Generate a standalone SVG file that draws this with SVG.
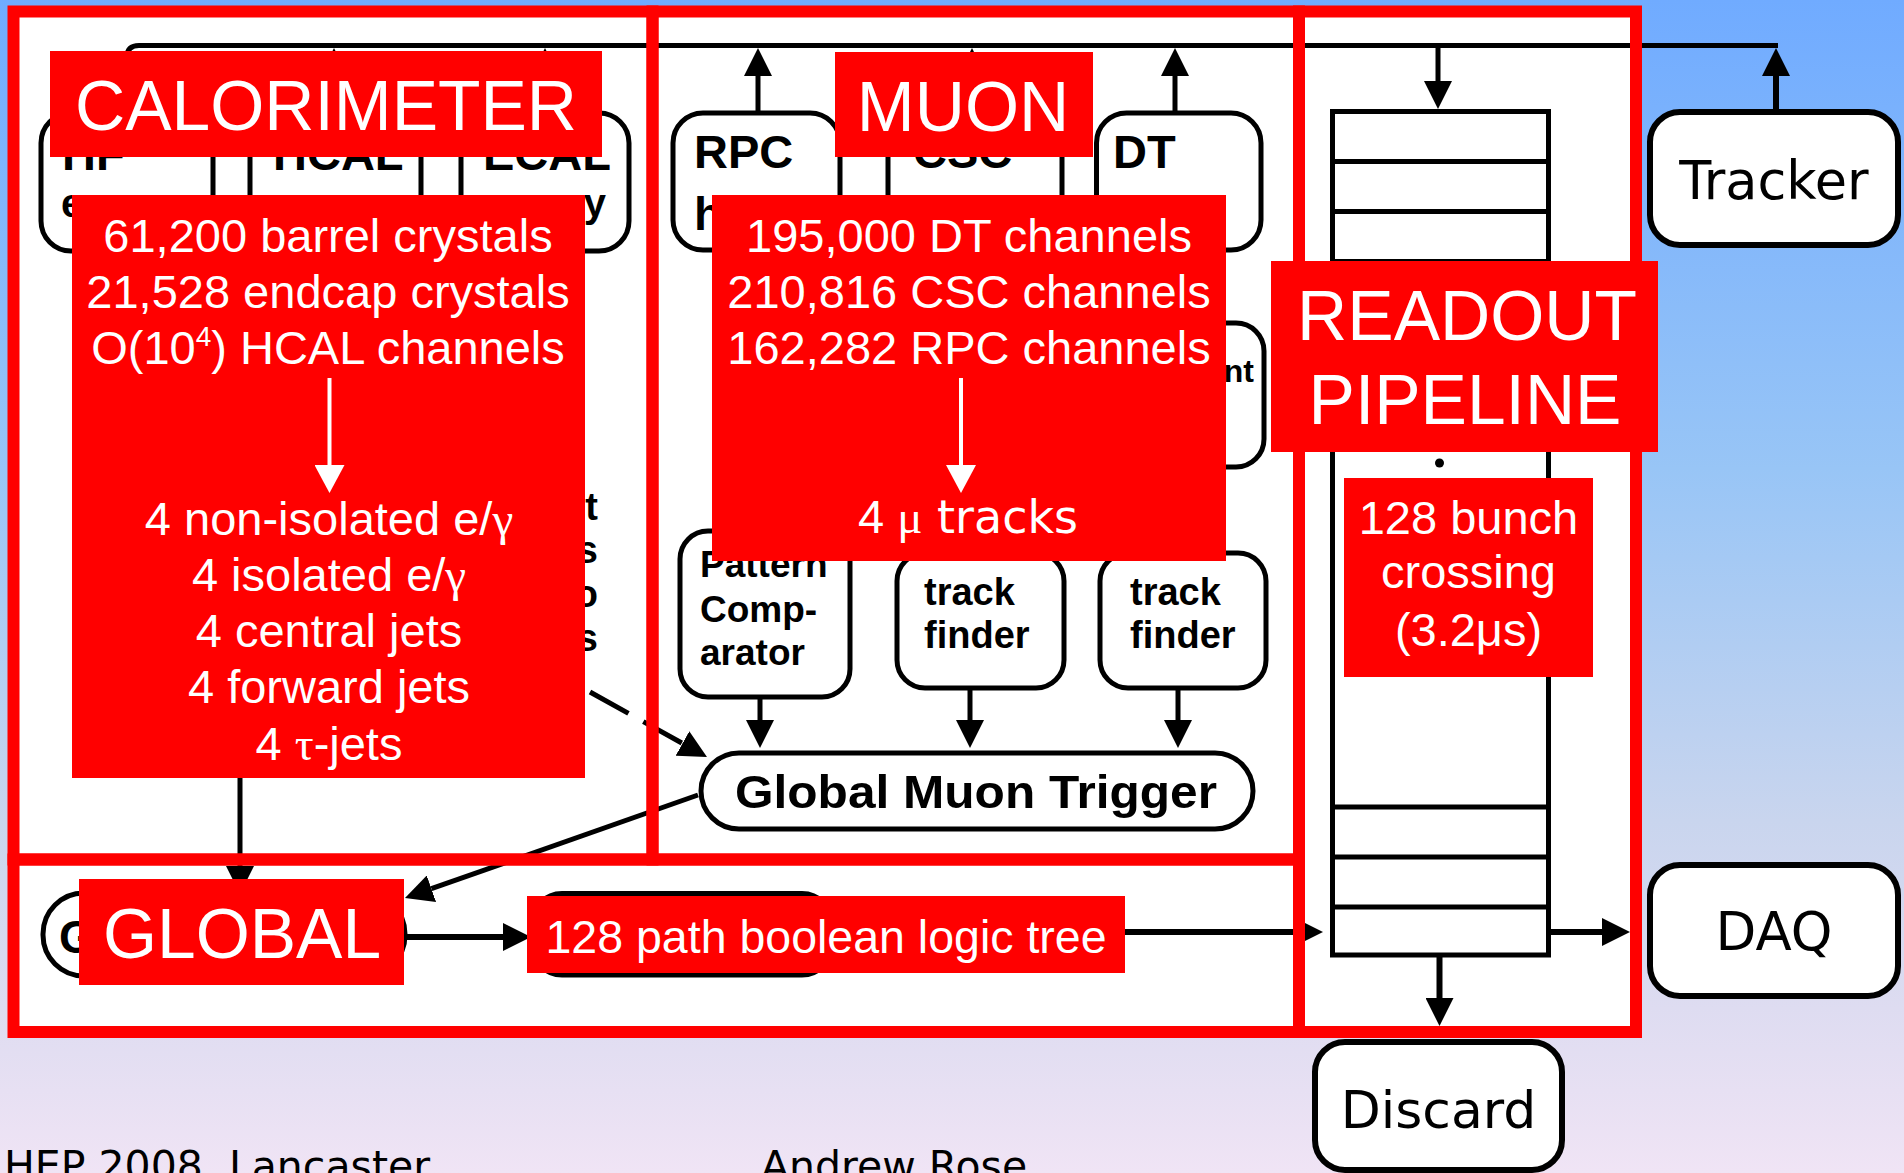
<svg xmlns="http://www.w3.org/2000/svg" width="1904" height="1173" viewBox="0 0 1904 1173">
<defs>
<linearGradient id="bg" x1="0" y1="0" x2="0" y2="1">
<stop offset="0" stop-color="#70abff"/>
<stop offset="0.4" stop-color="#98c5f6"/>
<stop offset="0.7" stop-color="#c9d5ee"/>
<stop offset="0.86" stop-color="#dedcf1"/>
<stop offset="1" stop-color="#f0e4f5"/>
</linearGradient>
<marker id="ah" markerUnits="userSpaceOnUse" markerWidth="28" markerHeight="28" viewBox="0 0 28 28" refX="0" refY="14" orient="auto"><path d="M0,0 L28,14 L0,28 z" fill="#000"/></marker>
<marker id="ahw" markerUnits="userSpaceOnUse" markerWidth="28" markerHeight="30" viewBox="0 0 28 30" refX="0" refY="15" orient="auto"><path d="M0,0 L28,15 L0,30 z" fill="#fff"/></marker>
<style>
.box{fill:#fff;stroke:#000;stroke-width:5}
.obox{fill:#fff;stroke:#000;stroke-width:6}
.ln{fill:none;stroke:#000;stroke-width:5}
.ln6{fill:none;stroke:#000;stroke-width:6}
.arr{marker-end:url(#ah)}
.wln{fill:none;stroke:#fff;stroke-width:4;marker-end:url(#ahw)}
.frame{fill:none;stroke:#ff0000;stroke-width:12}
.red{fill:#ff0000}
.bl{fill:#000;font-family:"Liberation Sans",Arial,sans-serif;font-weight:bold}
.wt{fill:#fff;font-family:"Liberation Sans",Arial,sans-serif}
.dj{fill:#000;font-family:"DejaVu Sans",Verdana,sans-serif}
.sym{font-family:"Liberation Serif","Times New Roman",serif}
</style>
</defs>
<rect width="1904" height="1173" fill="url(#bg)"/>
<rect x="8" y="6" width="1634" height="1031" fill="#fff"/>

<g id="hf"><rect class="box" x="41" y="113" width="172" height="138" rx="30"/><text class="bl" x="62" y="170" font-size="47">HF</text><text class="bl" x="61" y="217" font-size="40">e</text></g>
<g id="hcal"><rect class="box" x="250" y="113" width="171" height="138" rx="30"/><text class="bl" x="273" y="170" font-size="47">HCAL</text></g>
<g id="ecal"><rect class="box" x="461" y="113" width="168" height="138" rx="30"/><text class="bl" x="483" y="170" font-size="47">ECAL</text><text class="bl" x="606" y="217" font-size="40" text-anchor="end">y</text></g>
<g id="calo-trigger" class="bl" font-size="38" text-anchor="end"><text x="598" y="520">t</text><text x="598" y="563">s</text><text x="598" y="607">o</text><text x="598" y="651">s</text></g>
<g id="rpc"><rect class="box" x="673" y="113" width="167" height="137" rx="30"/><text class="bl" x="694" y="168" font-size="47">RPC</text><text class="bl" x="694" y="230" font-size="47">hits</text></g>
<g id="csc"><rect class="box" x="888" y="113" width="174" height="137" rx="30"/><text class="bl" x="913" y="168" font-size="47">CSC</text><text class="bl" x="913" y="230" font-size="47">hits</text></g>
<g id="dt"><rect class="box" x="1096.5" y="113" width="164.5" height="137" rx="30"/><text class="bl" x="1113" y="168" font-size="47">DT</text><text class="bl" x="1113" y="230" font-size="47">hits</text></g>
<g id="segment"><rect class="box" x="1100" y="323" width="164" height="144" rx="28"/><text class="bl" x="1254" y="382" font-size="32" text-anchor="end">nt</text></g>
<g id="pattern"><rect class="box" x="680" y="531" width="170" height="166" rx="28"/><text class="bl" x="700" y="577" font-size="37">Pattern</text><text class="bl" x="700" y="622" font-size="37">Comp-</text><text class="bl" x="700" y="665" font-size="37">arator</text></g>
<g id="tf1"><rect class="box" x="897" y="553" width="167" height="135" rx="28"/><text class="bl" x="924" y="605" font-size="38">track</text><text class="bl" x="924" y="648" font-size="38">finder</text></g>
<g id="tf2"><rect class="box" x="1100" y="553" width="166" height="135" rx="28"/><text class="bl" x="1130" y="605" font-size="38">track</text><text class="bl" x="1130" y="648" font-size="38">finder</text></g>
<g id="gmt"><rect class="box" x="701" y="753" width="552" height="76" rx="38"/><text class="bl" x="976" y="808" font-size="47" text-anchor="middle" textLength="482" lengthAdjust="spacingAndGlyphs">Global Muon Trigger</text></g>
<g id="global-trigger"><rect class="box" x="43" y="893" width="362" height="83" rx="41"/><text class="bl" x="59" y="953" font-size="46">G</text></g>
<g id="logic-tree"><rect class="box" x="532" y="893.5" width="300" height="81.5" rx="30"/></g>
<g id="pipeline"><rect class="box" x="1332.5" y="111.5" width="216" height="843.5"/><path class="ln" d="M1332.5,161.5H1548.5M1332.5,211.5H1548.5M1332.5,261.5H1548.5M1332.5,807H1548.5M1332.5,857H1548.5M1332.5,907H1548.5"/><circle cx="1439.5" cy="463" r="4.5" fill="#000"/></g>
<g id="tracker"><rect class="obox" x="1650" y="112" width="248" height="133" rx="30"/><text class="dj" x="1774" y="199" font-size="52.5" text-anchor="middle">Tracker</text></g>
<g id="daq"><rect class="obox" x="1650" y="865" width="248" height="131" rx="30"/><text class="dj" x="1774" y="950" font-size="53" text-anchor="middle">DAQ</text></g>
<g id="discard"><rect class="obox" x="1315" y="1042" width="247" height="128" rx="30"/><text class="dj" x="1438.5" y="1128" font-size="52" text-anchor="middle">Discard</text></g>

<g id="connectors">
<path class="ln" d="M127,113 V57 Q127,45.5 139,45.5 H1778"/>
<path class="ln arr" d="M334,113 V76"/>
<path class="ln arr" d="M545,113 V76"/>
<path class="ln arr" d="M758,113 V76"/>
<path class="ln arr" d="M972,113 V76"/>
<path class="ln arr" d="M1175,113 V76"/>
<path class="ln6 arr" d="M1776,112 V76"/>
<path class="ln arr" d="M1438,45.5 V81"/>
<path class="ln arr" d="M240,700 V866"/>
<path class="ln arr" d="M760,697 V720"/>
<path class="ln arr" d="M970,688 V720"/>
<path class="ln arr" d="M1178,688 V720"/>
<path class="ln arr" d="M590,692 L682.5,743.4" stroke-dasharray="44 17"/>
<path class="ln arr" d="M698,795 L431.4,888.7"/>
<path class="ln6 arr" d="M406,937 H503"/>
<path class="ln6 arr" d="M1125,932 H1295"/>
<path class="ln6 arr" d="M1548,932 H1602"/>
<path class="ln6 arr" d="M1439.5,955 V998"/>
</g>

<g id="frames">
<rect class="frame" x="13.5" y="11.5" width="639" height="848"/>
<rect class="frame" x="652.5" y="11.5" width="646.5" height="848"/>
<rect class="frame" x="1299" y="11.5" width="337" height="1020.5"/>
<rect class="frame" x="13.5" y="859.5" width="1285.5" height="172.5"/>
</g>

<g id="calorimeter-label"><rect class="red" x="50" y="51" width="552" height="106"/><text class="wt" x="326" y="130" font-size="69.5" text-anchor="middle">CALORIMETER</text></g>
<g id="calorimeter-stats"><rect class="red" x="72" y="195" width="513" height="583"/>
<g class="wt" font-size="47" text-anchor="middle">
<text x="328" y="252">61,200 barrel crystals</text>
<text x="328" y="308">21,528 endcap crystals</text>
<text x="328" y="364">O(10<tspan font-size="28" dy="-18">4</tspan><tspan dy="18">) HCAL channels</tspan></text>
<text x="329" y="535">4 non-isolated e/<tspan class="sym">γ</tspan></text>
<text x="329" y="591">4 isolated e/<tspan class="sym">γ</tspan></text>
<text x="329" y="647">4 central jets</text>
<text x="329" y="703">4 forward jets</text>
<text x="329" y="760">4 <tspan class="sym">τ</tspan>-jets</text>
</g>
<path class="wln" d="M329.5,378 V465"/></g>

<g id="muon-label"><rect class="red" x="835" y="52" width="258" height="105"/><text class="wt" x="963" y="131" font-size="69.5" text-anchor="middle">MUON</text></g>
<g id="muon-stats"><rect class="red" x="712" y="195" width="514" height="366"/>
<g class="wt" font-size="47" text-anchor="middle">
<text x="969" y="252">195,000 DT channels</text>
<text x="969" y="308">210,816 CSC channels</text>
<text x="969" y="364">162,282 RPC channels</text>
<text x="968" y="533">4 <tspan class="sym">μ</tspan><tspan font-family="DejaVu Sans, Verdana, sans-serif" font-size="46"> tracks</tspan></text>
</g>
<path class="wln" d="M961,378 V465"/></g>

<g id="readout-label"><rect class="red" x="1271" y="261" width="387" height="191"/><text class="wt" x="1467" y="340" font-size="69.5" text-anchor="middle">READOUT</text><text class="wt" x="1465" y="424" font-size="69.5" text-anchor="middle">PIPELINE</text></g>
<g id="bunch-label"><rect class="red" x="1344" y="478" width="249" height="199"/>
<g class="wt" font-size="47" text-anchor="middle"><text x="1468.5" y="534">128 bunch</text><text x="1468.5" y="588">crossing</text><text x="1468.5" y="646">(3.2μs)</text></g></g>
<g id="global-label"><rect class="red" x="79" y="879" width="325" height="106"/><text class="wt" x="242" y="958" font-size="69.5" text-anchor="middle">GLOBAL</text></g>
<g id="logic-label"><rect class="red" x="527" y="896" width="598" height="77"/><text class="wt" x="826" y="953" font-size="46.5" text-anchor="middle">128 path boolean logic tree</text></g>

<g id="footer">
<text class="dj" x="4" y="1180" font-size="41">HEP 2008, Lancaster</text>
<text class="dj" x="761" y="1180" font-size="41">Andrew Rose</text>
</g>
</svg>
